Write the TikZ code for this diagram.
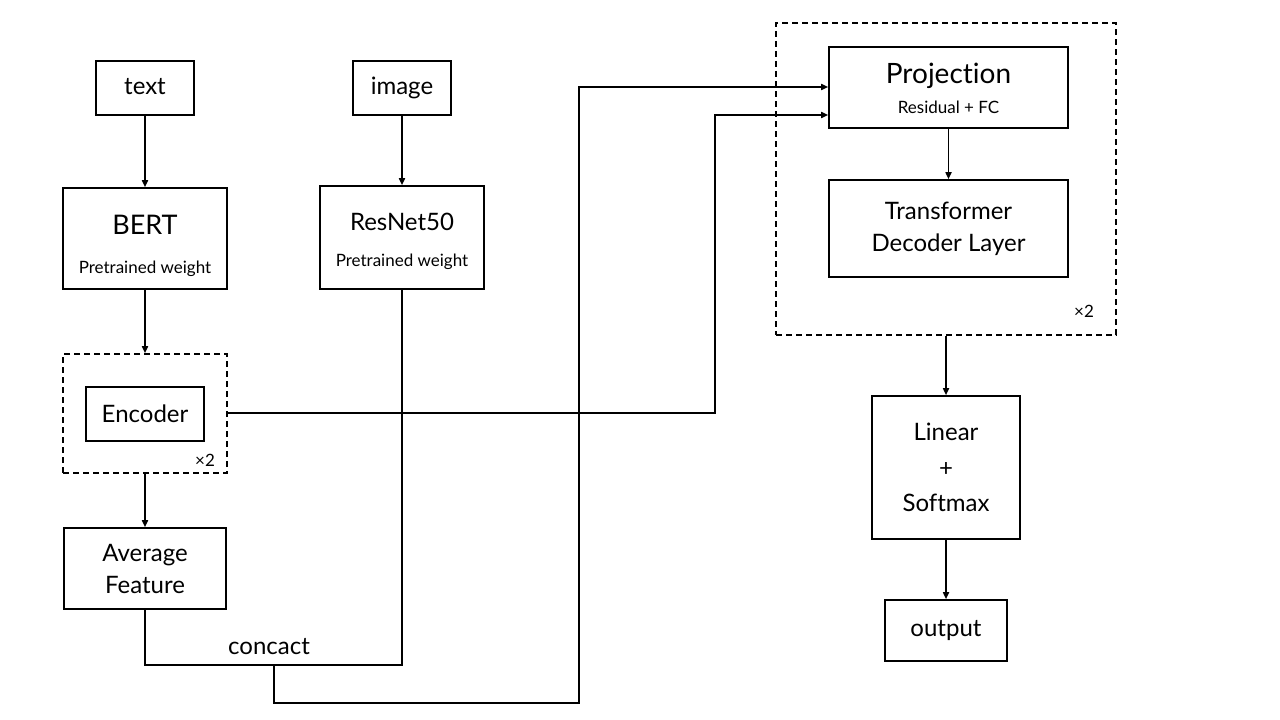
\documentclass[tikz,border=0pt]{standalone}
\usepackage{fontspec}
\setmainfont[Ligatures={NoCommon}]{Lato}
\usetikzlibrary{arrows.meta}
\begin{document}
\begin{tikzpicture}[x=1pt,y=-1pt,
  box/.style={draw,line width=1.6pt,inner sep=0pt,align=center,font=\fontsize{24}{30}\selectfont},
  dbox/.style={draw,line width=1.6pt,dash pattern=on 6pt off 4pt,inner sep=0pt},
  con/.style={line width=1.6pt},
  arr/.style={line width=1.6pt,-{Triangle[length=7pt,width=6pt]}},
  small/.style={font=\fontsize{17}{20}\selectfont},
  big/.style={font=\fontsize{27}{32}\selectfont}]
\useasboundingbox (0,0) rectangle (1280,720);
\fill[white] (0,0) rectangle (1280,720);
% left column
\node[box,minimum width=98pt,minimum height=54pt] (text) at (145,88) {text\strut};
\node[box,minimum width=98pt,minimum height=54pt] (image) at (402,88) {image\strut};
\node[box,minimum width=164pt,minimum height=101pt] (bert) at (145,238.5) {};
\node[big] (bertT) at (145,225) {BERT};
\node[small] (bertS) at (145,269) {Pretrained weight};
\node[box,minimum width=164pt,minimum height=103pt] (resnet) at (402,237.5) {};
\node[font=\fontsize{24}{30}\selectfont] (resT) at (402,222) {ResNet50};
\node[small] (resS) at (402,262) {Pretrained weight};
\node[dbox,minimum width=164pt,minimum height=119pt] (encd) at (145,413.5) {};
\node[box,minimum width=118pt,minimum height=54pt] (enc) at (145,414) {Encoder};
\node[small] (encx) at (205,460) {×2};
\node[box,minimum width=162pt,minimum height=81pt,font=\fontsize{24}{32}\selectfont] (avg) at (145,568.5) {Average\\Feature};
\node[font=\fontsize{24}{30}\selectfont] (concat) at (269,648) {concact\strut};
% right part
\node[dbox,minimum width=340pt,minimum height=312pt] (decd) at (946,179) {};
\node[box,minimum width=239pt,minimum height=81pt] (proj) at (948.5,87.5) {};
\node[font=\fontsize{28}{32}\selectfont] (projT) at (948.5,76) {Projection};
\node[small] (projS) at (948.5,107) {Residual + FC};
\node[box,minimum width=239pt,minimum height=97pt,font=\fontsize{24}{32}\selectfont] (trans) at (948.5,228.5) {Transformer\\Decoder Layer};
\node[small] (decx) at (1084,311) {×2};
\node[box,minimum width=148pt,minimum height=143pt,font=\fontsize{24}{35.5}\selectfont] (lin) at (946,467.5) {Linear\\+\\Softmax};
\node[box,minimum width=122pt,minimum height=61pt] (out) at (946,630.5) {output\strut};
% coordinates
\coordinate (c1) at (145,665);
\coordinate (c2) at (402,665);
\coordinate (c3) at (274,665);
\coordinate (c4) at (274,703);
\coordinate (c5) at (579,703);
\coordinate (c6) at (579,87);
\coordinate (c7) at (715,413);
\coordinate (c8) at (715,115);
% arrows
\draw[arr] (text.south) -- (bert.north);
\draw[arr] (image.south) -- (resnet.north);
\draw[arr] (bert.south) -- (encd.north);
\draw[arr] (encd.south) -- (avg.north);
\draw[con] (avg.south) -- (c1) -- (c2) -- (resnet.south);
\draw[arr] (c3) -- (c4) -- (c5) -- (c6) -- (proj.west |- c6);
\draw[arr] (encd.east |- c7) -- (c7) -- (c8) -- (proj.west |- c8);
\draw[arr] (proj.south) -- (trans.north);
\draw[arr] (decd.south) -- (lin.north);
\draw[arr] (lin.south) -- (out.north);
\end{tikzpicture}
\end{document}
